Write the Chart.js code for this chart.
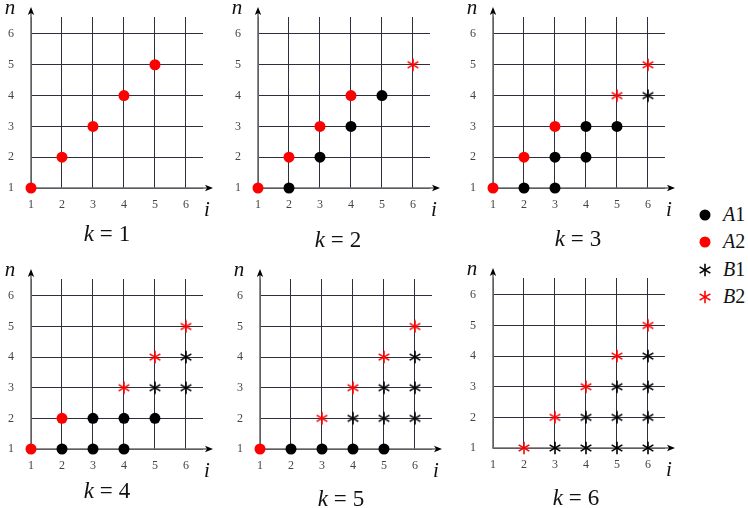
<!DOCTYPE html>
<html><head><meta charset="utf-8">
<script src="https://cdn.jsdelivr.net/npm/chart.js@4.4.1/dist/chart.umd.min.js"></script>
<style>
html,body{margin:0;padding:0;background:#fff;width:748px;height:508px;overflow:hidden;position:relative;}
canvas.panel{position:absolute;}
.item{position:absolute;left:690px;width:58px;height:26px;font-family:'Liberation Serif',serif;font-size:20px;color:#111;}
.item canvas{position:absolute;left:8px;top:6px;}
.item span{position:absolute;left:33px;top:0px;line-height:24px;}
</style>
</head><body>
<script>
// ---- data ----
const kValues = [1, 2, 3, 4, 5, 6];
const xTicks = [1, 2, 3, 4, 5, 6];
const yTicks = [1, 2, 3, 4, 5, 6];
const seriesNames = ['A1', 'A2', 'B1', 'B2'];
// points [i, n] per panel k = 1..6
const A1 = [
  [],
  [[2,1],[3,2],[4,3],[5,4]],
  [[2,1],[3,1],[3,2],[4,2],[4,3],[5,3]],
  [[2,1],[3,1],[4,1],[3,2],[4,2],[5,2]],
  [[2,1],[3,1],[4,1],[5,1]],
  []
];
const A2 = [
  [[1,1],[2,2],[3,3],[4,4],[5,5]],
  [[1,1],[2,2],[3,3],[4,4]],
  [[1,1],[2,2],[3,3]],
  [[1,1],[2,2]],
  [[1,1]],
  []
];
const B1 = [
  [],
  [],
  [[6,4]],
  [[5,3],[6,3],[6,4]],
  [[4,2],[5,2],[6,2],[5,3],[6,3],[6,4]],
  [[3,1],[4,1],[5,1],[6,1],[4,2],[5,2],[6,2],[5,3],[6,3],[6,4]]
];
const B2 = [
  [],
  [[6,5]],
  [[5,4],[6,5]],
  [[4,3],[5,4],[6,5]],
  [[3,2],[4,3],[5,4],[6,5]],
  [[2,1],[3,2],[4,3],[5,4],[6,5]]
];

// ---- layout (positions only) ----
const panels = [
  {left:0,   top:0,   kx:107, ky:233, padTop:17},
  {left:227, top:0,   kx:111, ky:239, padTop:17},
  {left:462, top:0,   kx:116, ky:238, padTop:17},
  {left:0,   top:261, kx:107, ky:229, padTop:18},
  {left:229, top:261, kx:112, ky:237, padTop:18},
  {left:462, top:260, kx:114, ky:237, padTop:18}
];
const RED = '#ff0000', BLACK = '#000000';
const serif = "'Liberation Serif', 'DejaVu Serif', serif";

function starImg(color, size){
  const c = document.createElement('canvas');
  c.width = size; c.height = size;
  const g = c.getContext('2d');
  g.strokeStyle = color; g.lineWidth = 1.6;
  g.translate(size/2, size/2);
  const r = size/2 - 0.8;
  for (const a of [90, 30, -30]) {
    const t = a*Math.PI/180;
    g.beginPath();
    g.moveTo(-r*Math.cos(t), -r*Math.sin(t));
    g.lineTo(r*Math.cos(t), r*Math.sin(t));
    g.stroke();
  }
  return c;
}
const starBlack = starImg(BLACK, 14), starRed = starImg(RED, 14);

const decor = {
  id: 'decor',
  beforeDatasetsDraw(chart) {
    const {ctx, chartArea: a, scales: {x, y}} = chart;
    const x0 = x.getPixelForValue(1), y0 = y.getPixelForValue(1);
    ctx.save();
    ctx.strokeStyle = '#6e6e6e'; ctx.lineWidth = 1.6;
    ctx.beginPath(); ctx.moveTo(x0, y0 + 0.5); ctx.lineTo(x0, a.top - 6); ctx.stroke();
    ctx.beginPath(); ctx.moveTo(x0 - 0.5, y0); ctx.lineTo(a.right + 6, y0); ctx.stroke();
    ctx.fillStyle = '#000';
    const ty = a.top - 10;
    ctx.beginPath(); ctx.moveTo(x0, ty); ctx.lineTo(x0 - 3.2, ty + 8); ctx.lineTo(x0, ty + 6); ctx.lineTo(x0 + 3.2, ty + 8); ctx.closePath(); ctx.fill();
    const tx = a.right + 10;
    ctx.beginPath(); ctx.moveTo(tx, y0); ctx.lineTo(tx - 8, y0 - 3.2); ctx.lineTo(tx - 6, y0); ctx.lineTo(tx - 8, y0 + 3.2); ctx.closePath(); ctx.fill();
    ctx.restore();
  },
  afterDraw(chart, args, opts) {
    const {ctx, chartArea: a, scales: {x, y}} = chart;
    const x0 = x.getPixelForValue(1), y0 = y.getPixelForValue(1);
    ctx.save();
    ctx.fillStyle = '#111';
    ctx.textBaseline = 'alphabetic';
    ctx.textAlign = 'center';
    ctx.font = 'italic 21px ' + serif;
    ctx.fillText('n', x0 - 21, a.top - 3);
    ctx.fillText('i', x0 + 176, y0 + 28);
    // k label: "k = N"
    const parts = [
      {t: 'k', f: 'italic 23px ' + serif},
      {t: '=', f: '23px ' + serif},
      {t: String(opts.k), f: '23px ' + serif}
    ];
    const gap = 6;
    let total = 0;
    parts.forEach(pt => { ctx.font = pt.f; pt.w = ctx.measureText(pt.t).width; total += pt.w; });
    total += gap * 2;
    let sx = opts.kx - total/2;
    ctx.textAlign = 'left';
    parts.forEach(pt => { ctx.font = pt.f; ctx.fillText(pt.t, sx, opts.ky + 8); sx += pt.w + gap; });
    ctx.restore();
  }
};

function pts(list){ return list.map(p => ({x: p[0], y: p[1]})); }

kValues.forEach((k, idx) => {
  const p = panels[idx];
  const cv = document.createElement('canvas');
  cv.className = 'panel';
  cv.width = 225; cv.height = 250;
  cv.style.left = p.left + 'px'; cv.style.top = p.top + 'px';
  cv.style.width = '225px'; cv.style.height = '250px';
  document.body.appendChild(cv);
  new Chart(cv, {
    type: 'scatter',
    data: {
      datasets: [
        {label: seriesNames[0], data: pts(A1[idx]), pointStyle: 'circle', pointRadius: 5.5, backgroundColor: BLACK, borderWidth: 0, clip: false},
        {label: seriesNames[1], data: pts(A2[idx]), pointStyle: 'circle', pointRadius: 5.5, backgroundColor: RED, borderWidth: 0, clip: false},
        {label: seriesNames[2], data: pts(B1[idx]), pointStyle: starBlack, pointRadius: 7, clip: false},
        {label: seriesNames[3], data: pts(B2[idx]), pointStyle: starRed, pointRadius: 7, clip: false}
      ]
    },
    options: {
      responsive: false,
      animation: false,
      devicePixelRatio: 1,
      clip: false,
      layout: {padding: {left: 0, right: 22, top: p.padTop, bottom: 32}},
      plugins: {legend: {display: false}, tooltip: {enabled: false}, decor: {k: k, kx: p.kx, ky: p.ky}},
      scales: {
        x: {
          type: 'linear', min: 1, max: 6.55,
          afterBuildTicks: s => { s.ticks = xTicks.map(v => ({value: v})); },
          afterFit: s => { s.height = 30; s.paddingLeft = 0; s.paddingRight = 0; },
          grid: {color: '#2e2e3c', lineWidth: 1, drawTicks: false},
          border: {display: false},
          ticks: {padding: 10, color: '#444', font: {family: serif, size: 12}}
        },
        y: {
          type: 'linear', min: 1, max: 6.55,
          afterBuildTicks: s => { s.ticks = yTicks.map(v => ({value: v})); },
          afterFit: s => { s.width = 31; s.paddingTop = 0; s.paddingBottom = 0; },
          grid: {color: '#2e2e3c', lineWidth: 1, drawTicks: false},
          border: {display: false},
          ticks: {padding: 17, color: '#444', font: {family: serif, size: 12}}
        }
      }
    },
    plugins: [decor]
  });
});

// ---- legend ----
const legendY = [215, 242, 270, 297];
const legendMarks = [
  {type: 'dot', color: BLACK}, {type: 'dot', color: RED},
  {type: 'star', color: BLACK}, {type: 'star', color: RED}
];
seriesNames.forEach((name, i) => {
  const d = document.createElement('div');
  d.className = 'item';
  d.style.top = (legendY[i] - 13) + 'px';
  const c = document.createElement('canvas');
  c.width = 14; c.height = 14;
  const g = c.getContext('2d');
  if (legendMarks[i].type === 'dot') {
    g.fillStyle = legendMarks[i].color;
    g.beginPath(); g.arc(7, 7, 5.5, 0, Math.PI*2); g.fill();
  } else {
    g.drawImage(starImg(legendMarks[i].color, 14), 0, 0);
  }
  d.appendChild(c);
  const s = document.createElement('span');
  s.innerHTML = '<i>' + name[0] + '</i>' + name.slice(1);
  d.appendChild(s);
  document.body.appendChild(d);
});
</script>
</body></html>
